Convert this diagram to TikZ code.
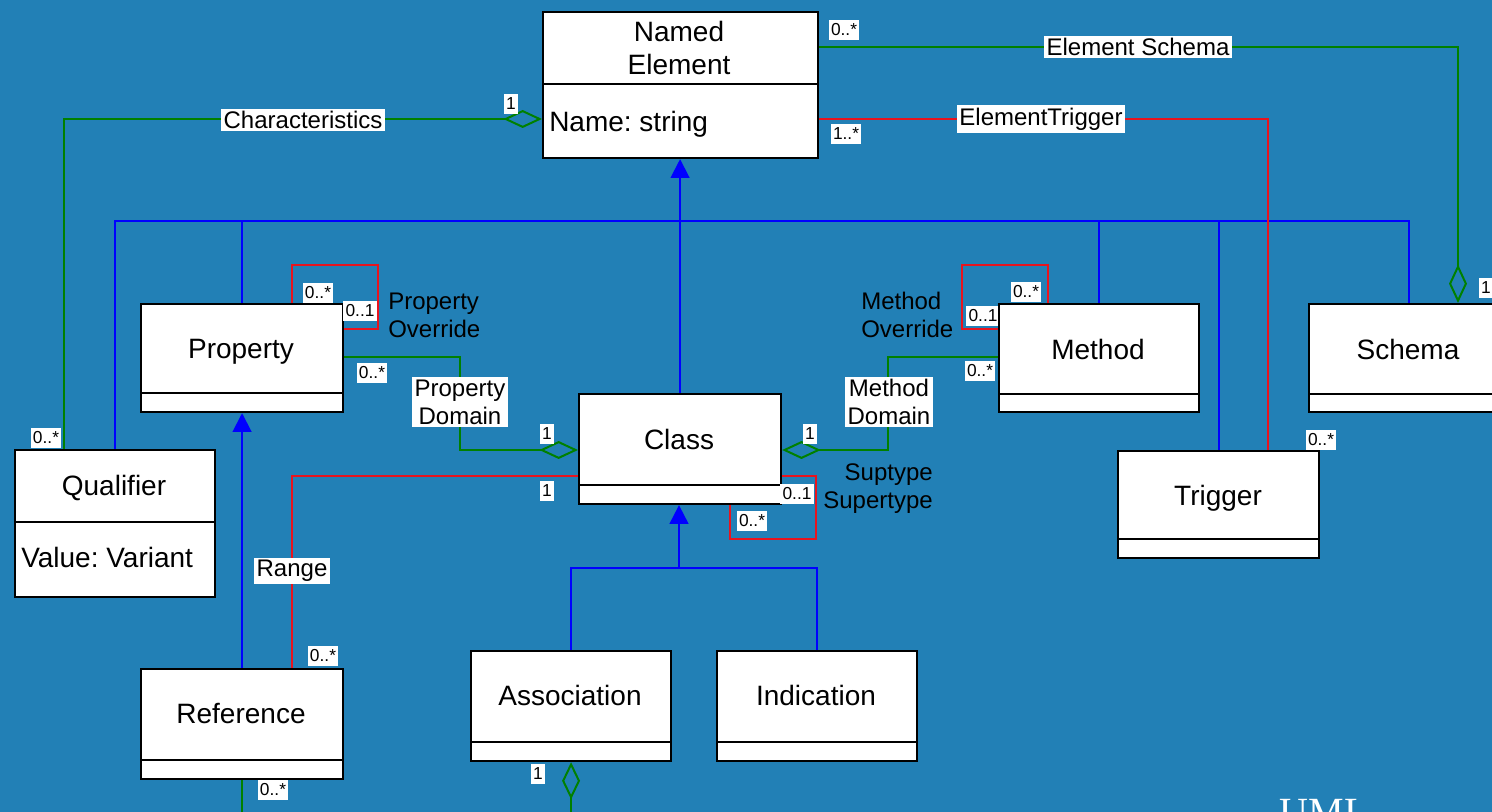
\documentclass[tikz,border=0pt]{standalone}
\usepackage{fontspec}
\setmainfont{Liberation Sans}
\newfontfamily\umlserif{Liberation Serif}
\usetikzlibrary{arrows.meta}
\definecolor{bg}{RGB}{34,128,182}
\definecolor{gline}{RGB}{0,128,0}
\definecolor{rline}{RGB}{232,20,30}
\definecolor{bline}{RGB}{0,0,255}
\frenchspacing
\begin{document}
\begin{tikzpicture}[x=0.75pt,y=-0.75pt,
  umlbox/.style={draw=black, line width=1.6pt, fill=white, inner sep=0pt, anchor=north west},
  cbox/.style 2 args={umlbox, minimum width=#1*0.75pt, minimum height=#2*0.75pt},
  divider/.style={draw=black, line width=1.6pt},
  ntext/.style={font=\fontsize{21}{25}\selectfont, align=center, inner sep=0pt},
  ttext/.style={ntext, text depth=0pt},
  mult/.style={fill=white, font=\fontsize{13}{14}\selectfont, inner xsep=1.8pt, inner ysep=3pt},
  elabel/.style={fill=white, font=\fontsize{18}{22}\selectfont, align=center, inner sep=2pt},
  ptext/.style={font=\fontsize{18}{21}\selectfont, inner sep=0pt},
  genline/.style={draw=bline, line width=1.5pt},
  gen/.style={genline, -{Triangle[length=14pt,width=14pt]}},
  grn/.style={draw=gline, line width=1.5pt},
  agg/.style={grn, -{Diamond[open,length=29pt,width=13.5pt]}},
  aggs/.style={grn, {Diamond[open,length=28pt,width=13.5pt]}-},
  red/.style={draw=rline, line width=1.5pt}
]
\useasboundingbox (0,0) rectangle (1492,812);
\fill[bg] (0,0) rectangle (1492,812);
\clip (0,0) rectangle (1492,812);

% ---------- class boxes ----------
\node[mult] (m13) at (983,316) {0..1};
\node[cbox={275}{146}] (ne) at (542,11) {};
\node[cbox={202}{108}] (prop) at (140,303) {};
\node[cbox={202}{110}] (cls) at (578,393) {};
\node[cbox={200}{108}] (meth) at (998,303) {};
\node[cbox={200}{108}] (sch) at (1308,303) {};
\node[cbox={201}{107}] (trig) at (1117,450) {};
\node[cbox={200}{147}] (qual) at (14,449) {};
\node[cbox={202}{110}] (ref) at (140,668) {};
\node[cbox={200}{110}] (assoc) at (470,650) {};
\node[cbox={200}{110}] (ind) at (716,650) {};

\draw[divider] (542,84) -- (817,84);
\draw[divider] (140,393) -- (342,393);
\draw[divider] (578,485) -- (780,485);
\draw[divider] (998,394) -- (1198,394);
\draw[divider] (1308,394) -- (1508,394);
\draw[divider] (1117,539) -- (1318,539);
\draw[divider] (14,522) -- (214,522);
\draw[divider] (140,760) -- (342,760);
\draw[divider] (470,742) -- (670,742);
\draw[divider] (716,742) -- (916,742);

\node[ntext] (tne) at (679,48) {Named\\Element};
\node[ttext, anchor=west] (tnes) at (549,121) {Name: string};
\node[ttext] (tprop) at (241,349) {Property};
\node[ttext] (tcls) at (679,439) {Class};
\node[ttext] (tmeth) at (1098,349) {Method};
\node[ttext] (tsch) at (1408,349) {Schema};
\node[ttext] (ttrig) at (1218,495) {Trigger};
\node[ttext] (tqual) at (114,485) {Qualifier};
\node[ttext, anchor=west] (tqv) at (21,557) {Value: Variant};
\node[ttext] (tref) at (241,713) {Reference};
\node[ttext] (tassoc) at (570,695) {Association};
\node[ttext] (tind) at (816,695) {Indication};

% ---------- coordinates ----------
\coordinate (bus) at (679,221);
\coordinate (bus2) at (679,568);
\coordinate (ch) at (64,119);
\coordinate (es) at (1458,47);
\coordinate (et) at (1268,119);
\coordinate (pd1) at (460,357);
\coordinate (pd2) at (460,450);
\coordinate (md1) at (888,357);
\coordinate (md2) at (888,450);
\coordinate (po1) at (292,265);
\coordinate (po2) at (378,329);
\coordinate (mo1) at (962,329);
\coordinate (mo2) at (1048,265);
\coordinate (cs1) at (816,476);
\coordinate (cs2) at (730,539);
\coordinate (rg) at (292,476);
\coordinate (bot) at (0,816);

% ---------- generalizations ----------
\draw[genline] (qual.north) |- (sch.north |- bus) -- (sch.north);
\draw[genline] (prop.north) -- (prop.north |- bus);
\draw[genline] (meth.north) -- (meth.north |- bus);
\draw[genline] (trig.north) -- (trig.north |- bus);
\draw[gen] (cls.north) -- (cls.north |- ne.south);
\draw[gen] (ref.north) -- (ref.north |- prop.south);
\draw[genline] (assoc.north) |- (ind.north |- bus2) -- (ind.north);
\draw[gen] (bus2) -- (bus2 |- cls.south);

% ---------- associations ----------
\draw[agg] (qual.north -| ch) |- (ne.west |- ch);
\draw[agg] (ne.east |- es) -| (sch.north -| es);
\draw[red] (ne.east |- et) -| (trig.north -| et);
\draw[agg] (prop.east |- pd1) -- (pd1) -- (pd2) -- (cls.west |- pd2);
\draw[agg] (meth.west |- md1) -- (md1) -- (md2) -- (cls.east |- md2);
\draw[red] (prop.north -| po1) -- (po1) -| (po2) -- (prop.east |- po2);
\draw[red] (meth.west |- mo1) -- (mo1) |- (mo2) -- (meth.north -| mo2);
\draw[red] (cls.east |- cs1) -- (cs1) |- (cs2) -- (cls.south -| cs2);
\draw[red] (cls.west |- rg) -- (rg) -- (ref.north -| rg);
\draw[grn] (ref.south) -- (ref.south |- bot);
\draw[aggs] (assoc.south) -- (assoc.south |- bot);

% ---------- association labels ----------
\node[elabel] (lch) at (303,120) {Characteristics};
\node[elabel] (les) at (1138,47) {Element Schema};
\node[elabel] (let) at (1041,119) {ElementTrigger};
\node[elabel, font=\fontsize{18}{21}\selectfont] (lpd) at (460,402) {Property\\Domain};
\node[elabel, font=\fontsize{18}{21}\selectfont] (lmd) at (889,402) {Method\\Domain};
\node[elabel] (lrg) at (292,571) {Range};
\node[ptext, anchor=west, align=left] (lpo) at (388,315) {Property\\Override};
\node[ptext, anchor=west, align=left] (lmo) at (861,315) {Method\\Override};
\node[ptext, anchor=east, align=right] (lst) at (933,489) {Suptype\\Supertype};

% ---------- multiplicities ----------
\node[mult] (m1) at (511,104) {1};
\node[mult] (m2) at (46,438) {0..*};
\node[mult] (m3) at (844,30) {0..*};
\node[mult] (m4) at (846,134) {1..*};
\node[mult] (m5) at (1321,440) {0..*};
\node[mult] (m6) at (1486,288) {1};
\node[mult] (m7) at (318,293) {0..*};
\node[mult] (m8) at (360,311) {0..1};
\node[mult] (m9) at (372,373) {0..*};
\node[mult] (m10) at (547,434) {1};
\node[mult] (m11) at (980,371) {0..*};
\node[mult] (m12) at (810,434) {1};
\node[mult] (m14) at (1026,292) {0..*};
\node[mult] (m15) at (797,494) {0..1};
\node[mult] (m16) at (752,521) {0..*};
\node[mult] (m17) at (547,491) {1};
\node[mult] (m18) at (323,656) {0..*};
\node[mult] (m19) at (273,790) {0..*};
\node[mult] (m20) at (538,774) {1};

\node[text=white, font=\umlserif\fontsize{30}{30}\selectfont, anchor=base, inner sep=0pt] (uml) at (1324,825) {UML};
\end{tikzpicture}
\end{document}
